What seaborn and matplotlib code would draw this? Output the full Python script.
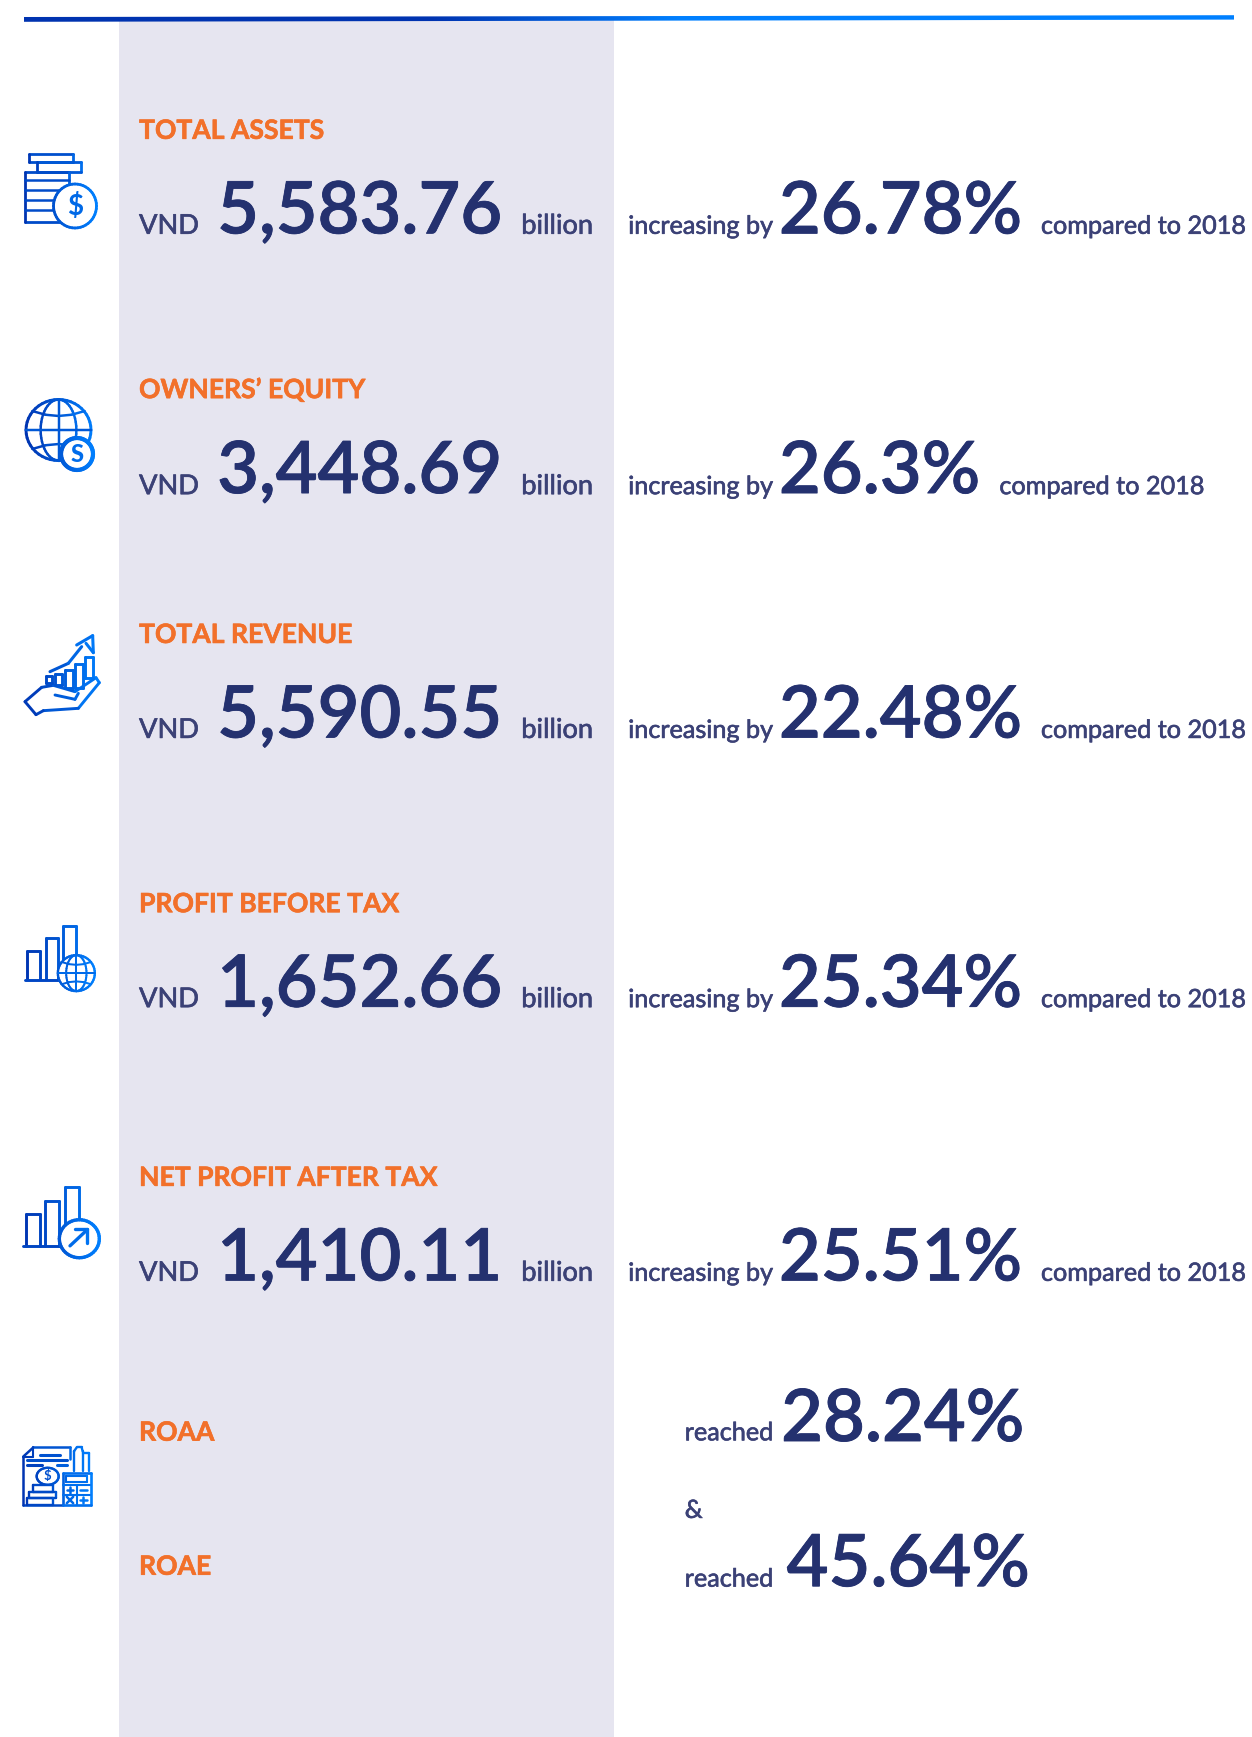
import numpy as np
import matplotlib
matplotlib.use("Agg")
import matplotlib.pyplot as plt
import matplotlib.patheffects as pe
import seaborn as sns
from matplotlib.patches import Polygon

labels = ["TOTAL ASSETS", "OWNERS’ EQUITY", "TOTAL REVENUE", "PROFIT BEFORE TAX", "NET PROFIT AFTER TAX"]
values = ["5,583.76", "3,448.69", "5,590.55", "1,652.66", "1,410.11"]
growth = ["26.78%", "26.3%", "22.48%", "25.34%", "25.51%"]
ratio_labels = ["ROAA", "ROAE"]
ratio_values = ["28.24%", "45.64%"]

sns.set_theme(style="white")
plt.rcParams["font.family"] = ["Lato", "DejaVu Sans"]

S = 1252 / 1130
NAVY, SLATE, ORANGE = "#24316F", "#3B4176", "#F2702A"
C0, C1 = np.array([0x00, 0x33, 0xB0]) / 255, np.array([0x00, 0x80, 0xFF]) / 255

fig = plt.figure(figsize=(12.52, 17.37), dpi=100)
ax = fig.add_axes([0, 0, 1, 1])
ax.set_xlim(0, 1252)
ax.set_ylim(1737, 0)
ax.axis("off")

ax.axvspan(119, 614, ymin=0, ymax=1 - 20 / 1737, color="#E6E5F0", lw=0, zorder=0)

# top rule with gradient, painted as an image clipped to a slim slanted band
gx0 = np.linspace(24, 1234, 600)
gt = np.clip((gx0 - 430) / 250, 0, 1)[:, None]
grad = (C0 * (1 - gt) + C1 * gt)[None, :, :]
im = ax.imshow(grad, extent=(24, 1234, 24, 14), aspect="auto", zorder=3, interpolation="bilinear")
im.set_clip_path(Polygon([(24, 17), (1234, 15.2), (1234, 19.6), (24, 21.8)], transform=ax.transData))
ax.set_xlim(0, 1252)
ax.set_ylim(1737, 0)


def col(x, x0, x1):
    f = np.clip((x - x0) / (x1 - x0), 0, 1)
    return tuple(C0 * (1 - f) + C1 * f)


def poly(pts, x0, x1, lw=1.7, closed=False, fc="none", z=4):
    pts = np.array(pts, float)
    if closed:
        pts = np.vstack([pts, pts[:1]])
    if fc != "none":
        ax.fill(pts[:, 0], pts[:, 1], fc=fc, lw=0, zorder=z)
    n = len(pts) - 1
    for i in range(n):
        mx = (pts[i, 0] + pts[i + 1, 0]) / 2
        ax.plot(pts[i:i + 2, 0], pts[i:i + 2, 1], color=col(mx, x0, x1), lw=lw,
                solid_capstyle="round", zorder=z)


def rect(xa, ya, xb, yb, x0, x1, lw=1.7, z=4):
    poly([(xa, ya), (xb, ya), (xb, yb), (xa, yb)], x0, x1, lw, True, z=z)


def ell(cx, cy, w, h, x0, x1, lw=1.7, fc="none", z=4, a0=0, a1=360):
    th = np.radians(np.linspace(a0, a1, 49))
    poly(np.c_[cx + w / 2 * np.cos(th), cy + h / 2 * np.sin(th)], x0, x1, lw, False, fc, z)


def Z2(*p):
    return [(x / 3, 380 + y / 3) for x, y in p]


def Z3(*p):
    return [(x / 3, 900 + y / 2.53) for x, y in p]


def globe(cx, cy, w, h, x0, x1, lw, fc="white", z=5):
    ell(cx, cy, w, h, x0, x1, lw, fc, z)
    ell(cx, cy, w * 0.55, h, x0, x1, lw * 0.85, z=z)
    poly([(cx, cy - h / 2), (cx, cy + h / 2)], x0, x1, lw * 0.85, z=z)
    poly([(cx - w / 2, cy), (cx + w / 2, cy)], x0, x1, lw * 0.85, z=z)
    # curved parallels near the poles
    for s in (-1, 1):
        px = np.array([-0.40, -0.2, 0, 0.2, 0.40]) * w
        py = s * np.array([0.31, 0.25, 0.23, 0.25, 0.31]) * h
        poly(np.c_[cx + px, cy + py], x0, x1, lw * 0.85, z=z)


# icon 1: coins
a, b = 24, 97
rect(29, 154, 73, 162, a, b, 2.0)
rect(37, 162, 81, 172, a, b, 2.0)
rect(25, 172, 69, 222, a, b, 2.0)
for yy in (180, 190, 200, 210):
    poly([(25, yy), (69, yy)], a, b, 1.8)
ell(75, 206, 43, 44, a, b, 2.0, "white", 5)
ax.text(75, 207, "$", color=col(75, a, b), fontsize=20, fontweight="bold", ha="center", va="center", zorder=6)

# icon 2: globe + coin
a, b = 25, 95
globe(58.5, 430, 65, 61, a, b, 2.1)
ell(77, 454, 32, 32, a, b, 3.0, "white", 6)
ax.text(77, 454, "S", color=col(77, a, b), fontsize=17, fontweight="black", ha="center", va="center", zorder=7)

# icon 3: hand + bars + arrow
a, b = 24, 100
poly(Z2((75, 965), (125, 922), (160, 916), (225, 935), (288, 893), (298, 908), (235, 985), (130, 992),
        (108, 1004), (75, 965)), a, b, 2.1)
poly(Z2((165, 945), (225, 958), (235, 940)), a, b, 2.1)
for xa, xb, ya, yb in [(137, 157, 888, 910), (165, 187, 882, 915), (195, 220, 870, 925), (226, 248, 852, 925), (255, 278, 832, 895)]:
    poly(Z2((xa, ya), (xb, ya), (xb, yb), (xa, yb), (xa, ya)), a, b, 2.1)
poly(Z2((150, 875), (205, 850), (245, 800)), a, b, 2.2)
poly(Z2((230, 795), (278, 767), (280, 818), (258, 790)), a, b, 2.2)

# icon 4: bars + globe
a, b = 25, 95
for xa, xb, ya, yb in [(82, 120, 128, 200), (137, 175, 97, 200), (190, 228, 65, 170)]:
    poly(Z3((xa, yb), (xa, ya), (xb, ya), (xb, yb)), a, b, 2.1)
poly(Z3((75, 202), (180, 202)), a, b, 2.1)
(gx, gy), = Z3((229, 185))
globe(gx, gy, 37, 36, a, b, 1.7)

# icon 5: bars + arrow badge
a, b = 23, 100
for xa, xb, ya, yb in [(77, 120, 795, 875), (135, 178, 762, 875), (195, 237, 725, 820)]:
    poly(Z3((xa, yb), (xa, ya), (xb, ya), (xb, yb)), a, b, 2.1)
poly(Z3((70, 876), (182, 876)), a, b, 2.1)
(gx, gy), = Z3((238, 857))
ell(gx, gy, 40, 38, a, b, 2.4, "white", 5)
poly(Z3((210, 875), (262, 834)), a, b, 2.4, z=6)
poly(Z3((225, 832), (262, 832), (262, 868)), a, b, 2.4, z=6)

# icon 6: document, coins, calculator
a, b = 22, 92
poly(Z3((185, 1530), (70, 1530), (70, 1408), (100, 1385), (210, 1385), (210, 1415)), a, b, 1.8)
poly(Z3((70, 1408), (100, 1408), (100, 1385)), a, b, 1.5)
poly(Z3((120, 1405), (180, 1405)), a, b, 2.2)
poly(Z3((82, 1418), (200, 1418)), a, b, 2.2)
poly(Z3((82, 1430), (125, 1430)), a, b, 2.2)
poly(Z3((170, 1430), (200, 1430)), a, b, 2.2)
(cx, cy), = Z3((143, 1458))
ell(cx, cy, 22, 17, a, b, 1.7, "white", 5)
ax.text(cx, cy, "$", color=col(cx, a, b), fontsize=9.5, fontweight="bold", ha="center", va="center", zorder=6)
for xa, xb, ya, yb in [(98, 160, 1480, 1497), (88, 167, 1497, 1514), (80, 160, 1514, 1530)]:
    poly(Z3((xa, ya), (xb, ya), (xb, yb), (xa, yb), (xa, ya)), a, b, 1.7)
poly(Z3((222, 1445), (222, 1395), (230, 1385), (245, 1385), (248, 1395), (248, 1445)), a, b, 1.7)
poly(Z3((248, 1400), (268, 1400), (268, 1445)), a, b, 1.7)
poly(Z3((188, 1530), (188, 1450), (272, 1450), (272, 1530), (188, 1530)), a, b, 1.9)
poly(Z3((198, 1458), (262, 1458), (262, 1472), (198, 1472), (198, 1458)), a, b, 1.5)
poly(Z3((190, 1480), (270, 1480)), a, b, 1.5)
poly(Z3((190, 1505), (270, 1505)), a, b, 1.5)
poly(Z3((232, 1480), (232, 1530)), a, b, 1.5)
# calculator keys, drawn as small strokes so the labels do not collide
for x, y, kind in [(210, 1493, "+"), (250, 1493, "-"), (210, 1518, "x"), (250, 1518, "+")]:
    (px, py), = Z3((x, y))
    r = 3.2
    c = col(px, a, b)
    if kind in "+-":
        ax.plot([px - r, px + r], [py, py], color=c, lw=1.8, zorder=6)
    if kind == "+":
        ax.plot([px, px], [py - r, py + r], color=c, lw=1.8, zorder=6)
    if kind == "x":
        ax.plot([px - r, px + r], [py - r, py + r], color=c, lw=1.8, zorder=6)
        ax.plot([px - r, px + r], [py + r, py - r], color=c, lw=1.8, zorder=6)


def T(x, y, s, size, color, weight="normal", stroke=0.0):
    t = ax.text(x * S, y * S, s, fontsize=size, color=color, fontweight=weight, ha="left", va="baseline", zorder=8)
    if stroke:
        t.set_path_effects([pe.withStroke(linewidth=stroke, foreground=color)])


BIG, SMALL, UNIT, HEAD = 52, 18.15, 19.6, 19.1
SB, SS, SH = 0.6, 0.45, 0.45
label_y = [125.3, 359.3, 580.3, 823.3, 1070.3]
value_y = [210.6, 445, 665.6, 908.6, 1155.6]
small_y = [211, 446, 666, 909, 1156]
suffix_x = [939.5, 902, 939.5, 939.5, 939.5]
for lab, val, gr, ly, vy, sy, sx in zip(labels, values, growth, label_y, value_y, small_y, suffix_x):
    T(125.5, ly, lab, HEAD, ORANGE, "bold", SH)
    T(125.5, sy, "VND", UNIT, SLATE, "normal", SS)
    T(196, vy, val, BIG, NAVY, "semibold", SB)
    T(470.5, sy, "billion", UNIT, SLATE, "normal", SS)
    T(567, sy, "increasing by", SMALL, SLATE, "normal", SS)
    T(703, vy, gr, BIG, NAVY, "semibold", SB)
    T(sx, sy, "compared to 2018", SMALL, SLATE, "normal", SS)

for lab, ly in zip(ratio_labels, [1300.3, 1421.3]):
    T(125.5, ly, lab, HEAD, ORANGE, "bold", SH)
T(618, 1300, "reached", SMALL, SLATE, "normal", SS)
T(705, 1300.6, ratio_values[0], BIG, NAVY, "semibold", SB)
T(618, 1370, "&", SMALL, SLATE, "normal", SS)
T(618, 1432, "reached", SMALL, SLATE, "normal", SS)
T(710, 1431.6, ratio_values[1], BIG, NAVY, "semibold", SB)

fig.savefig("out.png", dpi=100, facecolor="white")
